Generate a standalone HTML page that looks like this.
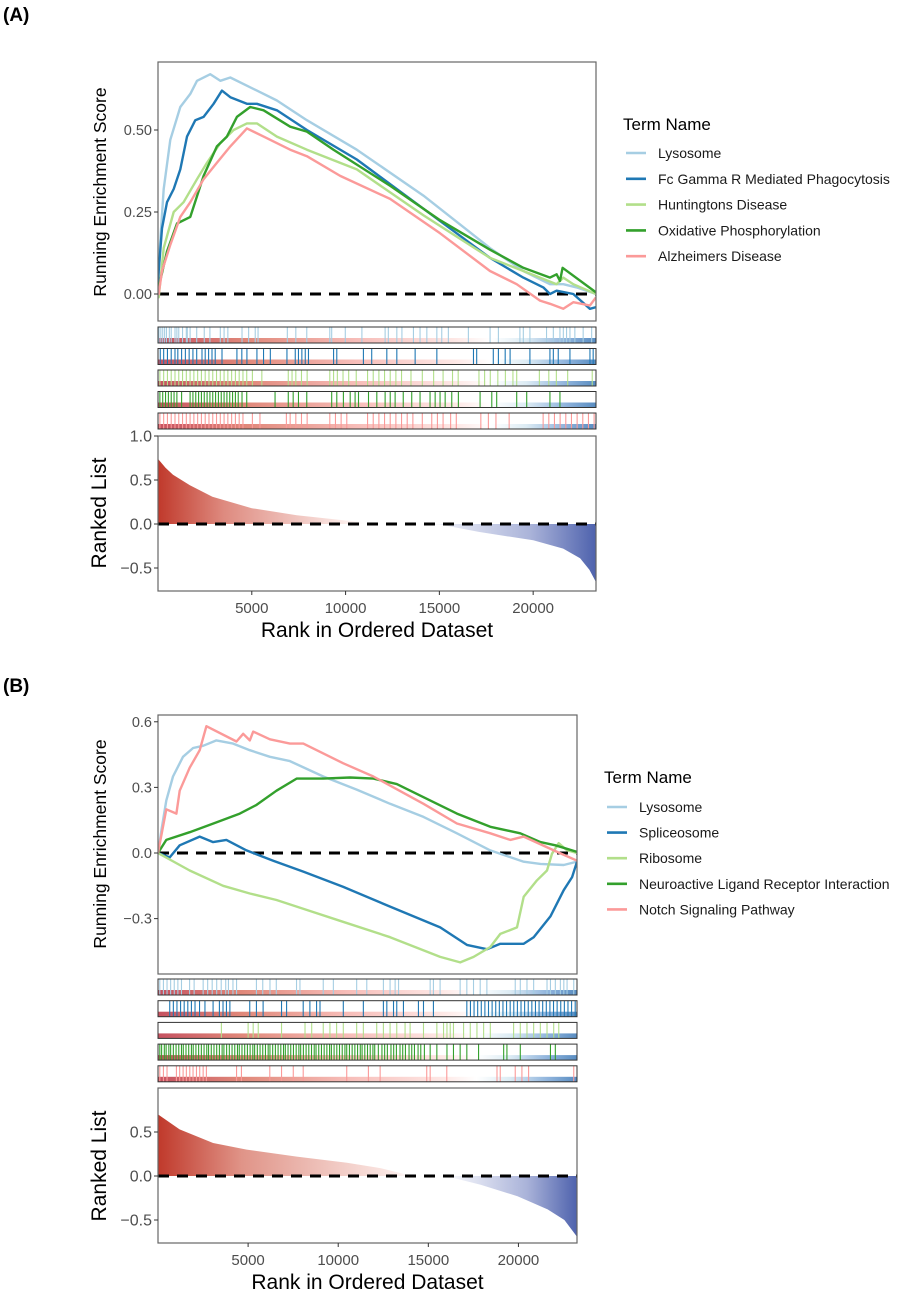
<!DOCTYPE html>
<html><head><meta charset="utf-8"><style>
html,body{margin:0;padding:0;background:#fff;}
svg{display:block;font-family:"Liberation Sans",Arial,sans-serif;}
</style></head><body>
<svg id="fig" width="906" height="1291" viewBox="0 0 906 1291" xmlns="http://www.w3.org/2000/svg">
<defs>
<linearGradient id="fillA" x1="158" y1="0" x2="596" y2="0" gradientUnits="userSpaceOnUse">
<stop offset="0" stop-color="#c0392b"/><stop offset="0.15" stop-color="#de8a7f"/><stop offset="0.42" stop-color="#fbe9e6"/><stop offset="0.47" stop-color="#ffffff"/><stop offset="0.58" stop-color="#ffffff"/><stop offset="0.64" stop-color="#eef0f8"/><stop offset="0.85" stop-color="#aab3d9"/><stop offset="1" stop-color="#4e62ad"/></linearGradient>
<linearGradient id="fillB" x1="158" y1="0" x2="577" y2="0" gradientUnits="userSpaceOnUse">
<stop offset="0" stop-color="#c0392b"/><stop offset="0.2" stop-color="#e09488"/><stop offset="0.56" stop-color="#fbe9e6"/><stop offset="0.61" stop-color="#ffffff"/><stop offset="0.67" stop-color="#ffffff"/><stop offset="0.72" stop-color="#eef0f8"/><stop offset="0.88" stop-color="#aab3d9"/><stop offset="1" stop-color="#4e62ad"/></linearGradient>
<linearGradient id="stripA" x1="0" y1="0" x2="1" y2="0">
<stop offset="0" stop-color="#b2182b"/><stop offset="0.2" stop-color="#d6604d"/><stop offset="0.45" stop-color="#f4a6a0"/><stop offset="0.68" stop-color="#fde0dd"/><stop offset="0.76" stop-color="#ffffff"/><stop offset="0.84" stop-color="#d1e5f0"/><stop offset="0.93" stop-color="#6b9bd1"/><stop offset="1" stop-color="#2166ac"/></linearGradient>
</defs>
<g id="root"></g>
</svg>
<script>
// ---------- Panel A data ----------
const aTerms = ["Lysosome","Fc Gamma R Mediated Phagocytosis","Huntingtons Disease","Oxidative Phosphorylation","Alzheimers Disease"];
const colors = ["#a6cee3","#1f78b4","#b2df8a","#33a02c","#fb9a99"];
const aLysosome = [[0,0],[35,0.09],[300,0.32],[653,0.47],[1182,0.57],[1711,0.61],[2064,0.65],[2769,0.67],[3299,0.65],[3828,0.66],[4533,0.64],[5239,0.62],[6297,0.59],[7885,0.53],[10531,0.44],[14059,0.30],[15823,0.22],[17587,0.14],[19351,0.07],[20762,0.03],[21468,0.03],[22173,0.02],[23200,0]];
const aFcGamma = [[0,0],[35,0.07],[212,0.20],[476,0.28],[829,0.32],[1182,0.38],[1535,0.48],[1976,0.53],[2417,0.54],[2946,0.58],[3387,0.62],[3828,0.60],[4710,0.58],[5239,0.58],[6297,0.56],[7885,0.50],[10531,0.41],[14059,0.26],[15823,0.185],[17587,0.11],[19351,0.05],[20409,0.02],[20762,0],[21115,0.01],[21997,0],[22879,-0.045],[23200,-0.04]];
const aHuntingtons = [[0,0],[35,-0.01],[300,0.14],[829,0.25],[1358,0.28],[2064,0.35],[2593,0.40],[3299,0.46],[4004,0.50],[4710,0.52],[5239,0.52],[6297,0.48],[7885,0.44],[10531,0.38],[14059,0.24],[15823,0.175],[17587,0.11],[19351,0.07],[21115,0.03],[21468,0.05],[21997,0.03],[23200,0]];
const aOxphos = [[0,0],[35,0.02],[476,0.13],[1005,0.215],[1711,0.235],[2417,0.36],[3122,0.45],[3651,0.48],[4181,0.54],[4886,0.57],[5592,0.56],[7003,0.51],[7885,0.495],[9296,0.44],[12295,0.33],[14941,0.225],[17587,0.135],[19351,0.08],[20762,0.05],[21115,0.06],[21291,0.04],[21433,0.08],[23200,0.005]];
const aAlzheimers = [[0,0],[35,0],[212,0.07],[653,0.15],[1182,0.235],[1711,0.28],[2417,0.35],[3122,0.40],[3828,0.45],[4710,0.505],[5592,0.48],[7003,0.44],[7885,0.42],[9649,0.36],[12295,0.29],[14941,0.185],[17587,0.07],[18998,0.03],[20233,-0.02],[20762,-0.03],[21468,-0.045],[21997,-0.025],[22879,-0.035],[23200,-0.01]];
const aHitsLysosome = [50,150,250,350,450,600,700,900,1000,1100,1300,1500,1550,1700,2050,2450,2750,3300,3500,3700,4450,4800,5150,5300,6850,7300,7880,9100,9200,9920,10800,12030,12200,12650,12920,13530,13880,14240,14770,15030,15380,16440,17590,18030,19170,19350,19700,20580,20940,21290,21470,21640,21820,22080,22520,22970];
const aHitsFcGamma = [120,300,500,700,900,1050,1250,1450,1650,1850,2050,2330,2500,2680,2860,3030,3390,4180,4440,4710,5240,5590,5950,6830,7270,7440,7620,7800,7970,9300,9470,10880,11320,12120,12650,13620,14770,16710,16880,17760,18030,18390,18650,19700,20760,20940,21200,21820,22880,23050];
const aHitsHuntingtons = [100,300,500,700,900,1100,1300,1500,1700,1900,2100,2300,2500,2700,2900,3100,3300,3500,3700,3900,4100,4300,4500,4700,5000,5500,6900,7100,7300,7600,7900,9100,9300,9500,9800,10100,10500,11100,11400,11700,12000,12300,12600,12900,13400,14000,14600,15100,15600,15900,17000,17300,17600,18000,18400,18800,19000,20200,20700,21100,21700,23000];
const aHitsOxphos = [100,250,400,550,700,850,1000,1250,1700,1850,2000,2150,2300,2450,2600,2750,2900,3050,3200,3350,3500,3650,3800,3950,4100,4250,4450,4700,6200,6900,7160,7440,7880,9200,9470,9820,10180,10440,10620,11150,11590,12030,12300,12560,12990,13440,13880,14410,14680,14940,15210,15560,15910,17060,17680,17940,19000,19530,20760,21290];
const aHitsAlzheimers = [100,300,500,700,900,1100,1300,1500,1700,1900,2100,2300,2500,2700,2900,3100,3300,3500,3700,3900,4100,4300,4500,5000,5400,6800,7000,7300,7600,7900,9100,9400,9700,10000,11100,11400,11700,12000,12300,12600,12900,13200,13500,14000,14500,14800,15100,15500,15800,17100,17500,17900,18600,20400,20700,21000,21300,21600,21900,22200,22500,22800,23100];
const aRankedRanks = [0,400,800,1700,2900,5000,7400,10000,11800,13500,15000,17100,20000,21600,22500,23000,23350];
const aRankedValues = [0.74,0.64,0.56,0.44,0.31,0.18,0.10,0.04,0.01,0,-0.005,-0.09,-0.185,-0.28,-0.39,-0.52,-0.66];
const aEsTicks = [0, 0.25, 0.5];
const aEsTickLabels = ["0.00","0.25","0.50"];

// ---------- Panel B data ----------
const bTerms = ["Lysosome","Spliceosome","Ribosome","Neuroactive Ligand Receptor Interaction","Notch Signaling Pathway"];
const bLysosome = [[0,0],[185,0.10],[462,0.24],[832,0.35],[1387,0.44],[1941,0.48],[2496,0.49],[3236,0.515],[4160,0.50],[5085,0.47],[6194,0.44],[7304,0.42],[9153,0.35],[11002,0.29],[12851,0.225],[14700,0.165],[16549,0.09],[18398,0.012],[20247,-0.04],[21171,-0.05],[22466,-0.055],[23200,-0.04]];
const bSpliceosome = [[0,0],[647,-0.02],[1202,0.035],[2311,0.075],[3051,0.05],[3790,0.06],[4900,0.012],[6379,-0.035],[8043,-0.085],[10262,-0.155],[12851,-0.245],[15624,-0.34],[17103,-0.42],[18213,-0.44],[18952,-0.415],[20247,-0.415],[20801,-0.385],[21726,-0.29],[22466,-0.17],[22928,-0.11],[23200,-0.04]];
const bRibosome = [[0,0],[1757,-0.08],[3606,-0.15],[5085,-0.185],[6564,-0.215],[8228,-0.26],[10077,-0.31],[12851,-0.385],[15624,-0.475],[16733,-0.50],[17473,-0.475],[18398,-0.43],[18952,-0.37],[19877,-0.34],[20247,-0.2],[20986,-0.125],[21541,-0.08],[21818,-0.003],[22188,0.045],[22651,0.012],[23200,0]];
const bNeuroactive = [[0,0],[462,0.06],[1757,0.095],[3236,0.14],[4530,0.18],[5455,0.22],[6564,0.285],[7673,0.34],[9153,0.34],[10632,0.345],[11926,0.34],[13220,0.315],[14700,0.255],[16549,0.18],[18398,0.12],[20062,0.09],[21171,0.05],[22003,0.035],[23200,0.005]];
const bNotch = [[0,0],[462,0.2],[1017,0.18],[1202,0.285],[1757,0.39],[2311,0.47],[2681,0.58],[4345,0.51],[4715,0.545],[5085,0.515],[5270,0.555],[6194,0.52],[7304,0.50],[8043,0.50],[10262,0.41],[11926,0.35],[14700,0.225],[16549,0.135],[18398,0.09],[19507,0.06],[20247,0.075],[22096,0.005],[23200,-0.035]];
const bHitsLysosome = [100,300,500,700,900,1100,1300,1750,2000,2500,2750,3000,3250,3500,3750,3900,4150,4350,5450,5800,6200,6550,7670,7860,9150,9710,11000,11560,12480,12850,13130,13320,15070,15250,15620,16730,17100,17470,17840,18210,19780,20060,20430,20800,21540,21730,22000,22280,22470,22650,23020];
const bHitsSpliceosome = [650,850,1050,1250,1450,1650,1850,2050,2300,2600,3050,3400,3600,3790,3980,5080,5450,5820,6840,7120,8040,8410,8780,8970,10260,11370,12480,12670,13040,13220,13590,14420,14700,15250,17100,17300,17500,17700,17900,18100,18300,18500,18700,18900,19100,19300,19500,19700,19900,20100,20300,20500,20700,20900,21100,21300,21500,21700,21900,22100,22300,22500,22700,22900,23100];
const bHitsRibosome = [3510,4990,5270,5550,6840,8140,8510,9150,9520,9890,10260,11000,11370,12110,12480,12850,13220,13680,13960,14700,15440,15810,16000,16180,16360,16920,17290,17660,18030,18400,19690,20060,20430,20800,21170,21540,21910,22190];
const bHitsNeuroactive = [100,200,350,450,600,700,850,1000,1150,1300,1400,1550,1700,1850,1950,2100,2250,2400,2550,2700,2800,2950,3100,3250,3400,3550,3650,3800,3950,4100,4250,4400,4500,4650,4800,4950,5100,5250,5350,5500,5650,5800,5950,6100,6200,6350,6500,6650,6800,6950,7050,7200,7350,7500,7650,7800,7900,8050,8200,8350,8500,8650,8750,8900,9050,9200,9350,9500,9600,9750,9900,10050,10200,10350,10450,10600,10750,10900,11050,11200,11300,11450,11600,11750,11900,12000,12200,12400,12550,12700,12900,13050,13200,13400,13550,13700,13900,14050,14200,14400,14550,14750,15070,15440,16000,16360,16730,17100,17750,19140,19320,20060,21730,22000];
const bHitsNotch = [100,300,500,1020,1200,1390,1570,1760,1940,2130,2310,2500,2680,4350,4620,6190,6840,7490,8040,10450,11650,12300,14880,15070,15990,18770,18950,19780,20150,20520,23020];
const bRankedRanks = [0,1200,3060,4920,7700,10490,12340,13830,14200,16050,17900,19950,21620,22550,23250];
const bRankedValues = [0.70,0.53,0.375,0.30,0.22,0.15,0.09,0.015,0,-0.005,-0.10,-0.23,-0.38,-0.50,-0.69];
const bEsTicks = [-0.3, 0, 0.3, 0.6];
const bEsTickLabels = ["\u22120.3","0.0","0.3","0.6"];

const xTicks = [5000,10000,15000,20000];
const xTickLabels = ["5000","10000","15000","20000"];
const rankTicksA = [-0.5,0,0.5,1.0];
const rankTickLabelsA = ["\u22120.5","0.0","0.5","1.0"];
const rankTicksB = [-0.5,0,0.5];
const rankTickLabelsB = ["\u22120.5","0.0","0.5"];

const NS = "http://www.w3.org/2000/svg";
const root = document.getElementById('root');
function mk(tag, attrs, parent, text){
  const e = document.createElementNS(NS, tag);
  for (const k in attrs) e.setAttribute(k, attrs[k]);
  if (text !== undefined) e.textContent = text;
  (parent||root).appendChild(e);
  return e;
}
function lin(d0,d1,r0,r1){ return v => r0 + (v-d0)/(d1-d0)*(r1-r0); }

function drawPanel(P){
  const g = mk('g', {});
  
  
  const lab = mk('text', {x:3, y:P.labelY, 'font-size':19, 'font-weight':'bold', fill:'#000'}, g, P.label);
  
  

  const x = lin(0, P.xMax, P.L, P.R);
  const y = lin(0, 1, P.es0, P.es0 - P.esUnit);
  const es = mk('g', {}, g);
  
  
  const clipId = 'clip' + P.id;
  const cp = mk('clipPath', {id:clipId}, es);
  mk('rect', {x:P.L, y:P.esT, width:P.R-P.L, height:P.esB-P.esT}, cp);
  mk('rect', {x:P.L, y:P.esT, width:P.R-P.L, height:P.esB-P.esT, fill:'#fff'}, es);
  const zl = mk('line', {x1:P.L, x2:P.R, y1:y(0), y2:y(0), stroke:'#000', 'stroke-width':3, 'stroke-dasharray':'11,8'}, es);
  
  
  const lg = mk('g', {'clip-path':'url(#'+clipId+')'}, es);
  P.series.forEach((s, i) => {
    const pts = s.map(p => x(p[0]).toFixed(1) + ',' + y(p[1]).toFixed(1)).join(' ');
    const pl = mk('polyline', {points:pts, fill:'none', stroke:colors[i], 'stroke-width':2.4, 'stroke-linejoin':'round'}, lg);
    
    
  });
  mk('rect', {x:P.L, y:P.esT, width:P.R-P.L, height:P.esB-P.esT, fill:'none', stroke:'#666', 'stroke-width':1.2}, es);
  P.esTicks.forEach((t, i) => {
    mk('line', {x1:P.L-4, x2:P.L, y1:y(t), y2:y(t), stroke:'#333', 'stroke-width':1}, es);
    const tl = mk('text', {x:P.L-6, y:y(t)+5, 'font-size':14.5, fill:'#4d4d4d', 'text-anchor':'end'}, es, P.esTickLabels[i]);
    
    
  });
  const yt = mk('text', {x:0, y:0, 'font-size':17.5, fill:'#000', 'text-anchor':'middle', transform:'translate(106,'+P.esTitleY+') rotate(-90)'}, es, 'Running Enrichment Score');
  
  

  P.hits.forEach((h, i) => {
    const top = P.rugT + i*P.rugStep, hgt = P.rugH;
    const rg = mk('g', {}, g);
    
    
    mk('rect', {x:P.L, y:top, width:P.R-P.L, height:hgt, fill:'#fff'}, rg);
    mk('rect', {x:P.L, y:top+hgt-5, width:P.R-P.L, height:5, fill:'url(#stripA)', opacity:0.75}, rg);
    h.forEach(r => {
      mk('line', {x1:x(r), x2:x(r), y1:top, y2:top+hgt, stroke:colors[i], 'stroke-width':1.1}, rg);
    });
    mk('rect', {x:P.L, y:top, width:P.R-P.L, height:hgt, fill:'none', stroke:'#333', 'stroke-width':1}, rg);
  });

  const rx = lin(0, P.rXMax, P.L, P.rR);
  const ry = lin(0, 1, P.r0, P.r0 - P.rUnit);
  const rk = mk('g', {}, g);
  
  
  let d = 'M' + rx(P.rRanks[0]) + ',' + ry(0);
  P.rRanks.forEach((r, i) => { d += ' L' + rx(r).toFixed(1) + ',' + ry(P.rVals[i]).toFixed(1); });
  d += ' L' + rx(P.rRanks[P.rRanks.length-1]) + ',' + ry(0) + ' Z';
  const area = mk('path', {d:d, fill:'url(#'+P.fill+')'}, rk);
  
  
  mk('line', {x1:P.L, x2:P.rR, y1:ry(0), y2:ry(0), stroke:'#000', 'stroke-width':3, 'stroke-dasharray':'11,8'}, rk);
  mk('rect', {x:P.L, y:P.rT, width:P.rR-P.L, height:P.rB-P.rT, fill:'none', stroke:'#666', 'stroke-width':1.2}, rk);
  P.rTicks.forEach((t, i) => {
    mk('line', {x1:P.L-4, x2:P.L, y1:ry(t), y2:ry(t), stroke:'#333', 'stroke-width':1}, rk);
    const tl = mk('text', {x:P.L-6, y:ry(t)+5.5, 'font-size':16, fill:'#4d4d4d', 'text-anchor':'end'}, rk, P.rTickLabels[i]);
    
    
  });
  xTicks.forEach((t, i) => {
    mk('line', {x1:rx(t), x2:rx(t), y1:P.rB, y2:P.rB+4, stroke:'#333', 'stroke-width':1}, rk);
    const tl = mk('text', {x:rx(t), y:P.xTickY, 'font-size':15, fill:'#4d4d4d', 'text-anchor':'middle'}, rk, xTickLabels[i]);
    
    
  });
  const rt = mk('text', {x:0, y:0, 'font-size':21, fill:'#000', 'text-anchor':'middle', transform:'translate(106,'+P.rTitleY+') rotate(-90)'}, rk, 'Ranked List');
  
  
  const xt = mk('text', {x:(P.L+P.rR)/2, y:P.xTitleY, 'font-size':21, fill:'#000', 'text-anchor':'middle'}, rk, 'Rank in Ordered Dataset');
  
  

  const lgd = mk('g', {}, g);
  
  
  mk('text', {x:P.legX-3, y:P.legTitleY+6, 'font-size':17, fill:'#000'}, lgd, 'Term Name');
  P.terms.forEach((t, i) => {
    const yy = P.legY0 + i*P.legStep;
    const en = mk('g', {}, lgd);
    
    
    mk('line', {x1:P.legX, x2:P.legX+20, y1:yy, y2:yy, stroke:colors[i], 'stroke-width':2.6}, en);
    mk('text', {x:P.legX+32, y:yy+5, 'font-size':14, fill:'#1a1a1a'}, en, t);
  });
}

drawPanel({id:'a', label:'(A)', labelY:21, terms:aTerms,
  series:[aLysosome,aFcGamma,aHuntingtons,aOxphos,aAlzheimers],
  hits:[aHitsLysosome,aHitsFcGamma,aHitsHuntingtons,aHitsOxphos,aHitsAlzheimers],
  xMax:23200, L:158, R:596, esT:62, esB:321, es0:294, esUnit:328,
  esTicks:aEsTicks, esTickLabels:aEsTickLabels, esTitleY:192,
  rugT:327, rugStep:21.5, rugH:16,
  rXMax:23350, rR:596, rT:436, rB:591, r0:524, rUnit:88,
  rRanks:aRankedRanks, rVals:aRankedValues, rTicks:rankTicksA, rTickLabels:rankTickLabelsA,
  fill:'fillA', rTitleY:513, xTickY:613, xTitleY:637,
  legX:626, legTitleY:124, legY0:153, legStep:25.8});

drawPanel({id:'b', label:'(B)', labelY:692, terms:bTerms,
  series:[bLysosome,bSpliceosome,bRibosome,bNeuroactive,bNotch],
  hits:[bHitsLysosome,bHitsSpliceosome,bHitsRibosome,bHitsNeuroactive,bHitsNotch],
  xMax:23200, L:158, R:577, esT:715, esB:974, es0:853, esUnit:218.7,
  esTicks:bEsTicks, esTickLabels:bEsTickLabels, esTitleY:844,
  rugT:979, rugStep:21.7, rugH:16,
  rXMax:23250, rR:577, rT:1088, rB:1243, r0:1176, rUnit:88,
  rRanks:bRankedRanks, rVals:bRankedValues, rTicks:rankTicksB, rTickLabels:rankTickLabelsB,
  fill:'fillB', rTitleY:1166, xTickY:1265, xTitleY:1289,
  legX:607, legTitleY:777, legY0:807, legStep:25.6});
</script>
</body></html>
